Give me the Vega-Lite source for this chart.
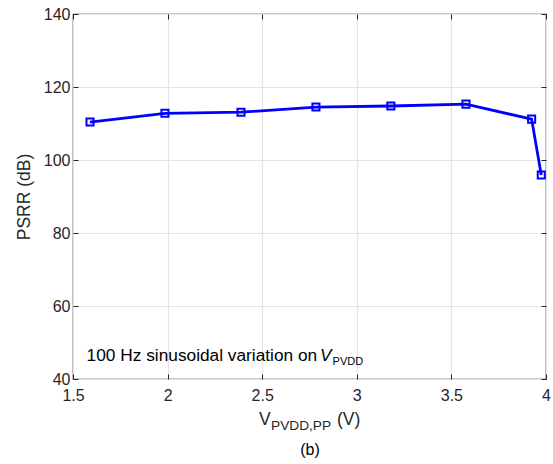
{
  "$schema": "https://vega.github.io/schema/vega-lite/v6.json",
  "width": 473,
  "height": 365,
  "autosize": {"type": "none"},
  "padding": {"left": 73, "top": 14, "right": 7, "bottom": 85},
  "background": "white",
  "config": {
    "font": "Liberation Sans",
    "view": {"stroke": "#262626", "strokeWidth": 1.2},
    "axis": {
      "domain": false,
      "labelFont": "Liberation Sans",
      "labelFontSize": 16,
      "labelColor": "#262626",
      "tickColor": "#262626",
      "tickSize": -5,
      "tickWidth": 1,
      "gridColor": "#e3e3e3",
      "gridWidth": 1.2,
      "titleFont": "Liberation Sans",
      "titleFontSize": 17.5,
      "titleFontWeight": "normal",
      "titleColor": "#262626"
    }
  },
  "data": {
    "values": [
      {"v": 1.59, "psrr": 110.4},
      {"v": 1.986, "psrr": 112.8},
      {"v": 2.388, "psrr": 113.1},
      {"v": 2.784, "psrr": 114.5},
      {"v": 3.18, "psrr": 114.8},
      {"v": 3.577, "psrr": 115.3},
      {"v": 3.924, "psrr": 111.2},
      {"v": 3.975, "psrr": 95.9}
    ]
  },
  "layer": [
    {
      "mark": {"type": "line", "color": "#0000ff", "strokeWidth": 2.8, "clip": true},
      "encoding": {
        "x": {"field": "v", "type": "quantitative", "scale": {"domain": [1.5, 4], "nice": false},
          "axis": {"orient": "bottom", "values": [1.5, 2, 2.5, 3, 3.5, 4], "format": "~g", "title": null, "labelPadding": 13, "labelFlush": false, "grid": true}},
        "y": {"field": "psrr", "type": "quantitative", "scale": {"domain": [40, 140], "nice": false, "zero": false},
          "axis": {"orient": "left", "values": [40, 60, 80, 100, 120, 140], "title": "PSRR (dB)", "titlePadding": 10, "labelPadding": 8, "grid": true}}
      }
    },
    {
      "mark": {"type": "point", "shape": "square", "size": 50, "filled": false, "color": "#0000ff", "strokeWidth": 2, "opacity": 1},
      "encoding": {
        "x": {"field": "v", "type": "quantitative", "axis": {"orient": "top", "values": [1.5, 2, 2.5, 3, 3.5, 4], "labels": false, "title": null, "grid": false}},
        "y": {"field": "psrr", "type": "quantitative", "axis": {"orient": "right", "values": [40, 60, 80, 100, 120, 140], "labels": false, "title": null, "grid": false}}
      }
    },
    {
      "data": {"values": [{}]},
      "mark": {"type": "text", "text": "100 Hz sinusoidal variation on", "align": "left", "baseline": "alphabetic", "fontSize": 17.3, "color": "#000000"},
      "encoding": {"x": {"datum": 1.572, "type": "quantitative", "axis": null}, "y": {"datum": 44.8, "type": "quantitative", "axis": null}}
    },
    {
      "data": {"values": [{}]},
      "mark": {"type": "text", "text": "V", "align": "left", "baseline": "alphabetic", "fontSize": 17.3, "fontStyle": "italic", "color": "#000000"},
      "encoding": {"x": {"datum": 2.8055, "type": "quantitative", "axis": null}, "y": {"datum": 44.8, "type": "quantitative", "axis": null}}
    },
    {
      "data": {"values": [{}]},
      "mark": {"type": "text", "text": "PVDD", "align": "left", "baseline": "alphabetic", "fontSize": 11, "color": "#000000"},
      "encoding": {"x": {"datum": 2.872, "type": "quantitative", "axis": null}, "y": {"datum": 43.8, "type": "quantitative", "axis": null}}
    },
    {
      "data": {"values": [{}]},
      "mark": {"type": "text", "text": "V", "align": "left", "baseline": "alphabetic", "fontSize": 17.5, "dy": 46, "color": "#262626"},
      "encoding": {"x": {"datum": 2.483, "type": "quantitative", "axis": null}, "y": {"datum": 40, "type": "quantitative", "axis": null}}
    },
    {
      "data": {"values": [{}]},
      "mark": {"type": "text", "text": "PVDD,PP", "align": "left", "baseline": "alphabetic", "fontSize": 13.7, "dy": 51, "color": "#262626"},
      "encoding": {"x": {"datum": 2.5465, "type": "quantitative", "axis": null}, "y": {"datum": 40, "type": "quantitative", "axis": null}}
    },
    {
      "data": {"values": [{}]},
      "mark": {"type": "text", "text": "(V)", "align": "left", "baseline": "alphabetic", "fontSize": 17.5, "dy": 46, "color": "#262626"},
      "encoding": {"x": {"datum": 2.895, "type": "quantitative", "axis": null}, "y": {"datum": 40, "type": "quantitative", "axis": null}}
    },
    {
      "data": {"values": [{}]},
      "mark": {"type": "text", "text": "(b)", "align": "center", "baseline": "alphabetic", "fontSize": 16, "dy": 76, "color": "#000000"},
      "encoding": {"x": {"datum": 2.7526, "type": "quantitative", "axis": null}, "y": {"datum": 40, "type": "quantitative", "axis": null}}
    }
  ],
  "resolve": {"axis": {"x": "independent", "y": "independent"}}
}
